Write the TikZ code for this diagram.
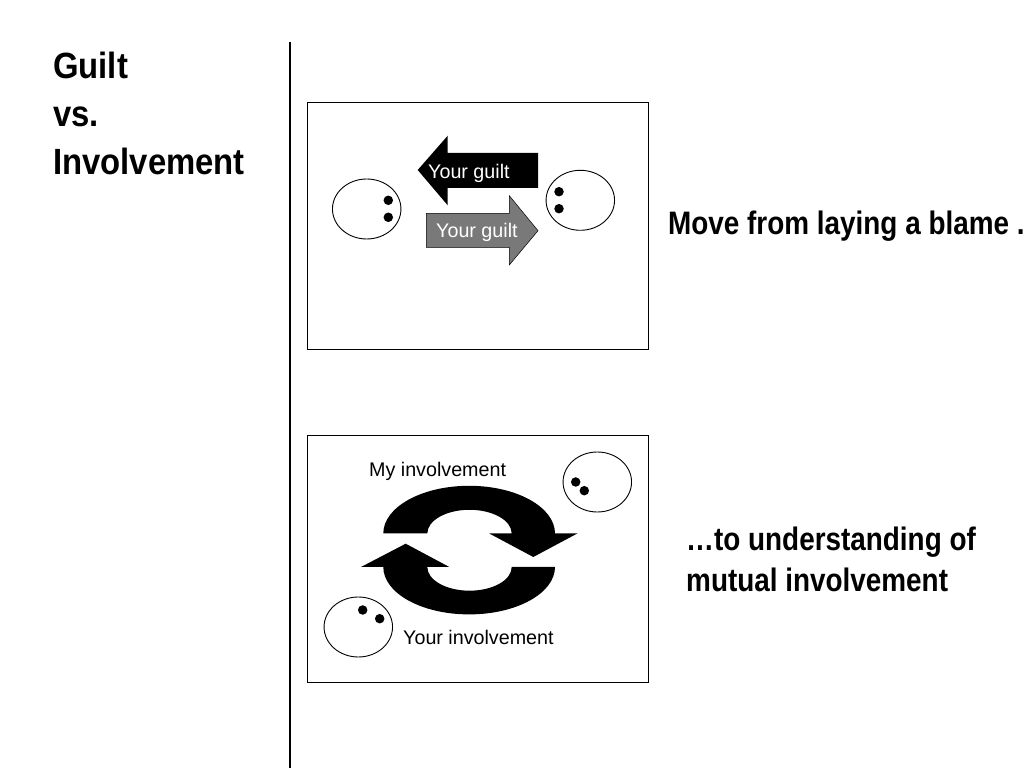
\documentclass[tikz,border=0pt]{standalone}
\usepackage{fontspec}
\setmainfont{Liberation Sans}
\newfontfamily\headfont[FakeStretch=0.9]{Liberation Sans Bold}
\newfontfamily\sayfont[FakeStretch=0.858]{Liberation Sans Bold}
\tikzset{
  frame/.style={draw=black,line width=0.9pt,fill=white},
  face/.style={ellipse,draw=black,line width=0.9pt,fill=white,minimum width=68.5pt,minimum height=60pt,inner sep=0pt},
  eye/.style={circle,fill=black,minimum size=9.5pt,inner sep=0pt},
  head/.style={anchor=base west,inner sep=0pt,font=\headfont\fontsize{36.5}{36.5}\selectfont},
  say/.style={anchor=base west,inner sep=0pt,font=\sayfont\fontsize{32.5}{32.5}\selectfont},
  lab/.style={anchor=base west,inner sep=0pt,font=\fontsize{19.7}{19.7}\selectfont},
}
\usetikzlibrary{shapes.geometric}
\begin{document}
\begin{tikzpicture}[x=1pt,y=1pt]
\useasboundingbox (0,0) rectangle (1024,768);
\fill[white] (0,0) rectangle (1024,768);
% y here = 768 - pixel y
\node[head] (t1) at (53,689) {Guilt};
\node[head] (t2) at (53,641) {vs.};
\node[head] (t3) at (53,593) {Involvement};
\draw[line width=2pt] (290,726) -- (290,0);
\draw[frame] (307,666) rectangle (648,419);
\draw[frame] (307,333) rectangle (648,86);
% top panel
\node[face] (fa) at (366.7,559) {};
\node[eye] (fa1) at (388.3,567.7) {};
\node[eye] (fa2) at (388.3,550.7) {};
\node[face] (fb) at (580.3,567.7) {};
\node[eye] (fb1) at (559,576.3) {};
\node[eye] (fb2) at (559,559.3) {};
\fill[black] (417.7,598) -- (447.7,632.3) -- (447.7,615) -- (538,615) -- (538,580) -- (447.7,580) -- (447.7,562.7) -- cycle;
\filldraw[fill=black!50!white!95!black,draw=black,line width=0.5pt] (426.3,554.7) -- (509.3,554.7) -- (509.3,572.3) -- (538,537.3) -- (509.3,503) -- (509.3,520.7) -- (426.3,520.7) -- cycle;
\node[lab,text=white] (g1) at (428,589.8) {Your guilt};
\node[lab,text=white] (g2) at (436,530) {Your guilt};
\node[say] (s1) at (668,533) {Move from laying a blame .};
% bottom panel
\node[face] (fc) at (597.3,286) {};
\node[eye] (fc1) at (575.7,286) {};
\node[eye] (fc2) at (584.3,277.3) {};
\node[face] (fd) at (358.3,141) {};
\node[eye] (fd1) at (362.7,158) {};
\node[eye] (fd2) at (379.7,149.3) {};
\fill[black] (383.3,234.5) arc[start angle=180,end angle=0,x radius=85.85,y radius=47.7]
  -- (577.3,234.5) -- (533.3,211) -- (489.3,234.5) -- (511.7,234.5)
  arc[start angle=0,end angle=180,x radius=42.2,y radius=23.7] -- cycle;
\fill[black] (555,201) arc[start angle=0,end angle=-180,x radius=85.85,y radius=47.4]
  -- (361,201) -- (405.7,224.3) -- (449.3,201) -- (427.3,201)
  arc[start angle=180,end angle=360,x radius=42.2,y radius=23.7] -- cycle;
\node[lab] (m1) at (369,291.3) {My involvement};
\node[lab] (m2) at (403,123.5) {Your involvement};
\node[say] (s2) at (686,217.5) {…to understanding of};
\node[say] (s3) at (686,176.5) {mutual involvement};
\end{tikzpicture}
\end{document}
